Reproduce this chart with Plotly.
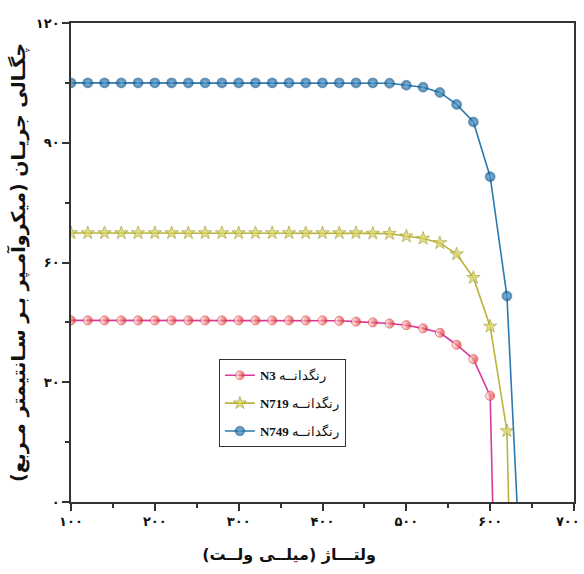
import plotly.graph_objects as go

# ---------------- data ----------------
v_n3 = [100, 120, 140, 160, 180, 200, 220, 240, 260, 280, 300, 320, 340, 360, 380, 400,
        420, 440, 460, 480, 500, 520, 540, 560, 580, 600, 603]
j_n3 = [45.5, 45.5, 45.5, 45.5, 45.5, 45.5, 45.5, 45.5, 45.5, 45.5, 45.5, 45.5, 45.5, 45.5, 45.5, 45.5,
        45.4, 45.2, 45.0, 44.7, 44.3, 43.5, 42.4, 39.4, 35.8, 26.6, 0.0]

v_n719 = [100, 120, 140, 160, 180, 200, 220, 240, 260, 280, 300, 320, 340, 360, 380, 400,
          420, 440, 460, 480, 500, 520, 540, 560, 580, 600, 620, 622]
j_n719 = [67.4, 67.4, 67.4, 67.4, 67.4, 67.4, 67.4, 67.4, 67.4, 67.4, 67.4, 67.4, 67.4, 67.4, 67.4, 67.4,
          67.4, 67.4, 67.3, 67.2, 66.6, 66.0, 64.9, 62.1, 56.2, 44.0, 17.8, 0.0]

v_n749 = [100, 120, 140, 160, 180, 200, 220, 240, 260, 280, 300, 320, 340, 360, 380, 400,
          420, 440, 460, 480, 500, 520, 540, 560, 580, 600, 620, 632]
j_n749 = [105.0, 105.0, 105.0, 105.0, 105.0, 105.0, 105.0, 105.0, 105.0, 105.0, 105.0, 105.0, 105.0, 105.0, 105.0, 105.0,
          105.0, 105.0, 105.0, 104.9, 104.4, 103.9, 102.6, 99.6, 95.2, 81.5, 51.6, 0.0]

x_tickvals = [100, 200, 300, 400, 500, 600, 700]
x_ticktext = ["۱۰۰", "۲۰۰", "۳۰۰", "۴۰۰", "۵۰۰", "۶۰۰", "۷۰۰"]
y_tickvals = [0, 30, 60, 90, 120]
y_ticktext = ["۰", "۳۰", "۶۰", "۹۰", "۱۲۰"]

dye = "رنگدانــه"
names = ["<b>N3</b> " + dye, "<b>N719</b> " + dye, "<b>N749</b> " + dye]
x_title = "ولتـــاژ (میلــی ولــت)"
y_title = "چگـالی جریـان (میکروآمـپر بـر سـانتیمتر مـربع)"

NB = "\u00a0"
RLM = "\u200f"

# ---------------- figure ----------------
fig = go.Figure()


def sizes(n, s):
    return [s] * (n - 1) + [0]


fig.add_trace(go.Scatter(
    x=v_n3, y=j_n3, mode="lines+markers", name=names[0], legendgroup="a",
    line=dict(color="#d83a9c", width=1.6),
    marker=dict(symbol="circle", size=sizes(len(v_n3), 9), color="#ffffff",
                gradient=dict(type="horizontal", color="#e02018"),
                line=dict(color="#e0403a", width=1)),
))
fig.add_trace(go.Scatter(
    x=v_n719, y=j_n719, mode="lines+markers", name=names[1], legendgroup="b",
    line=dict(color="#b8b43c", width=1.6),
    marker=dict(symbol="star", size=sizes(len(v_n719), 10), color="#dcd45a",
                line=dict(color="#a09c2c", width=1)),
))
fig.add_trace(go.Scatter(
    x=v_n749, y=j_n749, mode="lines+markers", name=names[2], legendgroup="c",
    line=dict(color="#2a7ab2", width=1.6),
    marker=dict(symbol="circle", size=sizes(len(v_n749), 10), color="#0b4f86",
                gradient=dict(type="radial", color="#5aa6dc"),
                line=dict(color="#0b4f86", width=0.5)),
))

axis_common = dict(
    showgrid=False, zeroline=False, showline=True, linecolor="#333333", linewidth=1.5,
    mirror=True, ticks="outside", ticklen=7, tickwidth=1.5, tickcolor="#333333",
    tickfont=dict(family="DejaVu Sans", size=13, color="#111111"),
    automargin=False, ticklabeloverflow="allow",
)

x_labels = ["<b>%s</b>" % t for t in x_ticktext]
x_labels[-1] = x_labels[-1] + NB * 3

fig.update_xaxes(
    range=[100, 700], tickmode="array", tickvals=x_tickvals, ticktext=x_labels,
    minor=dict(ticks="outside", ticklen=4, tickwidth=1.5, tickcolor="#333333", dtick=50),
    title=dict(text="<b>" + x_title + RLM + NB * 12 + "</b>",
               font=dict(family="DejaVu Sans", size=16, color="#111111"), standoff=20),
    **axis_common,
)
fig.update_yaxes(
    range=[0, 120], tickmode="array", tickvals=y_tickvals, ticktext=["<b>%s</b>" % t for t in y_ticktext],
    minor=dict(ticks="outside", ticklen=4, tickwidth=1.5, tickcolor="#333333", dtick=15),
    title=dict(text="<b>" + y_title + RLM + "</b>",
               font=dict(family="DejaVu Sans", size=19, color="#111111"), standoff=5),
    **axis_common,
)

fig.update_layout(
    width=584, height=574,
    margin=dict(l=71, r=10, t=23, b=72),
    plot_bgcolor="white", paper_bgcolor="white",
    showlegend=True,
    legend=dict(
        x=0.294, y=0.298, xanchor="left", yanchor="top",
        bgcolor="white", bordercolor="#333333", borderwidth=1,
        font=dict(family="Liberation Serif", size=13, color="#111111"),
        traceorder="grouped", tracegroupgap=8,
    ),
)

fig.write_html("out.html")
